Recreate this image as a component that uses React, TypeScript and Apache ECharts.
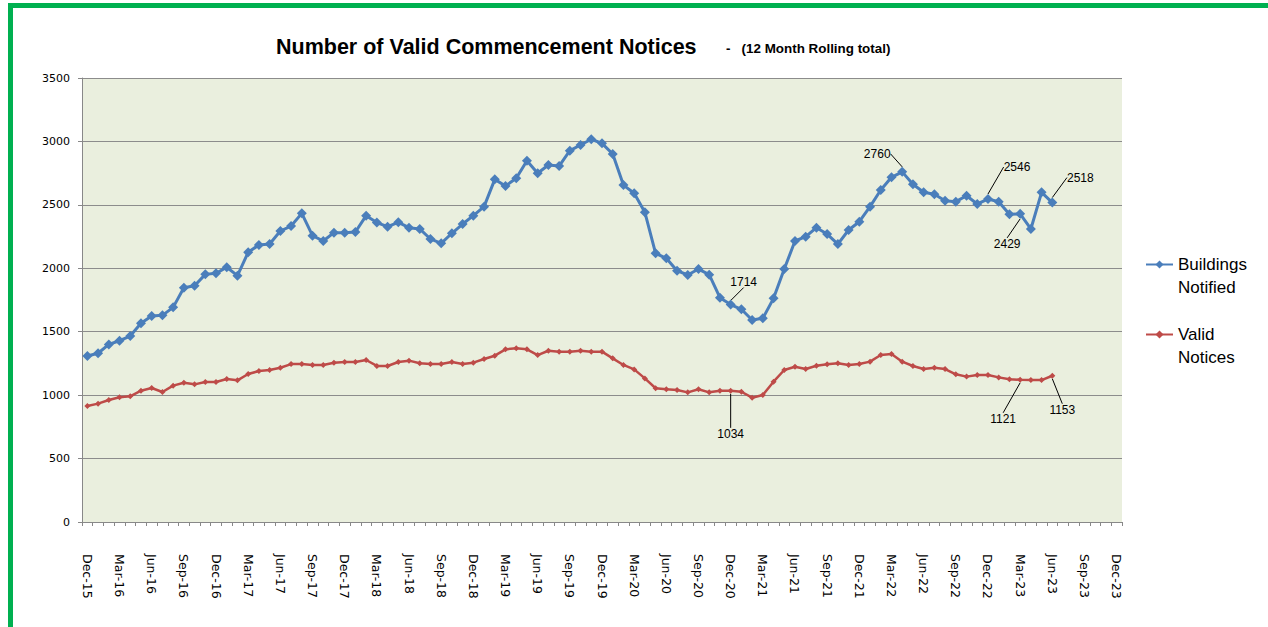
import React, { useEffect, useRef } from "react";
import * as echarts from "echarts";

const categories: string[] = [
  "Dec-15", "Jan-16", "Feb-16", "Mar-16", "Apr-16", "May-16", "Jun-16", "Jul-16", "Aug-16", "Sep-16", "Oct-16", "Nov-16",
  "Dec-16", "Jan-17", "Feb-17", "Mar-17", "Apr-17", "May-17", "Jun-17", "Jul-17", "Aug-17", "Sep-17", "Oct-17", "Nov-17",
  "Dec-17", "Jan-18", "Feb-18", "Mar-18", "Apr-18", "May-18", "Jun-18", "Jul-18", "Aug-18", "Sep-18", "Oct-18", "Nov-18",
  "Dec-18", "Jan-19", "Feb-19", "Mar-19", "Apr-19", "May-19", "Jun-19", "Jul-19", "Aug-19", "Sep-19", "Oct-19", "Nov-19",
  "Dec-19", "Jan-20", "Feb-20", "Mar-20", "Apr-20", "May-20", "Jun-20", "Jul-20", "Aug-20", "Sep-20", "Oct-20", "Nov-20",
  "Dec-20", "Jan-21", "Feb-21", "Mar-21", "Apr-21", "May-21", "Jun-21", "Jul-21", "Aug-21", "Sep-21", "Oct-21", "Nov-21",
  "Dec-21", "Jan-22", "Feb-22", "Mar-22", "Apr-22", "May-22", "Jun-22", "Jul-22", "Aug-22", "Sep-22", "Oct-22", "Nov-22",
  "Dec-22", "Jan-23", "Feb-23", "Mar-23", "Apr-23", "May-23", "Jun-23", "Jul-23", "Aug-23", "Sep-23", "Oct-23", "Nov-23",
  "Dec-23",
];

const buildingsNotified: number[] = [
  1308, 1330, 1400, 1429, 1466, 1566, 1624, 1629, 1692, 1847, 1863, 1952,
  1960, 2008, 1942, 2126, 2184, 2191, 2294, 2333, 2433, 2257, 2215, 2281,
  2281, 2286, 2415, 2360, 2328, 2362, 2320, 2310, 2231, 2197, 2276, 2349,
  2415, 2486, 2701, 2649, 2709, 2848, 2749, 2814, 2806, 2927, 2972, 3017,
  2985, 2901, 2656, 2591, 2441, 2118, 2079, 1981, 1947, 1994, 1950, 1768,
  1714, 1677, 1592, 1606, 1763, 1994, 2215, 2249, 2320, 2270, 2191, 2302,
  2367, 2486, 2617, 2717, 2760, 2662, 2599, 2583, 2533, 2525, 2572, 2507,
  2546, 2525, 2426, 2429, 2310, 2599, 2518,
];

const validNotices: number[] = [
  914, 933, 962, 983, 991, 1035, 1056, 1025, 1075, 1098, 1085, 1104,
  1104, 1127, 1117, 1167, 1190, 1198, 1216, 1245, 1245, 1238, 1238, 1256,
  1261, 1261, 1277, 1230, 1230, 1261, 1272, 1251, 1245, 1245, 1261, 1245,
  1256, 1285, 1311, 1361, 1369, 1361, 1316, 1350, 1343, 1343, 1350, 1343,
  1343, 1290, 1238, 1203, 1132, 1054, 1046, 1040, 1022, 1046, 1022, 1035,
  1034, 1027, 980, 1001, 1106, 1198, 1224, 1206, 1232, 1243, 1251, 1238,
  1245, 1264, 1316, 1324, 1264, 1230, 1206, 1216, 1206, 1164, 1146, 1159,
  1159, 1140, 1125, 1121, 1119, 1119, 1153,
];

const yTicks = { min: 0, max: 3500, interval: 500 };

// indices of points that carry a data label
const buildingsLabelled: number[] = [60, 76, 84, 87, 90];
const noticesLabelled: number[] = [60, 87, 90];

// label offsets (pixels) relative to the point, per series
const labelOffsets: Record<number, Record<number, [number, number]>> = {
  0: { 60: [13, -23], 76: [-25, -18], 84: [29, -32], 87: [-13, 30], 90: [28, -25] },
  1: { 60: [0, 43], 87: [-17, 39], 90: [10, 34] },
};

const BLUE = "#4A7EBB";
const RED = "#BE4B48";
const labelFont = "'Liberation Sans', Arial, sans-serif";

function buildData(values: number[], labelled: number[]) {
  return values.map((v, i) =>
    labelled.includes(i)
      ? {
          value: v,
          label: {
            show: true,
            position: "inside",
            color: "#000",
            fontSize: 12,
            fontFamily: labelFont,
          },
          labelLine: { show: true, lineStyle: { color: "#000", width: 1 } },
        }
      : v
  );
}

export default function App() {
  const ref = useRef<HTMLDivElement>(null);

  useEffect(() => {
    if (!ref.current) return;
    const chart = echarts.init(ref.current, undefined, { renderer: "svg" });
    const option: any = {
      animation: false,
      backgroundColor: "#fff",
      title: [
        {
          text: "Number of Valid Commencement Notices",
          left: 271,
          top: 31,
          textStyle: {
            fontFamily: labelFont,
            fontWeight: "bold",
            fontSize: 21.5,
            color: "#000",
          },
        },
        {
          text: "-   (12 Month Rolling total)",
          left: 721,
          top: 37,
          textStyle: {
            fontFamily: labelFont,
            fontWeight: "bold",
            fontSize: 13.4,
            color: "#000",
          },
        },
      ],
      graphic: [
        { type: "rect", left: 8, top: 3, shape: { width: 5, height: 624 }, style: { fill: "#00B050" }, silent: true },
        { type: "rect", left: 8, top: 3, shape: { width: 1260, height: 5 }, style: { fill: "#00B050" }, silent: true },
      ],
      legend: {
        orient: "vertical",
        left: 1140,
        top: 225,
        itemWidth: 27,
        itemHeight: 10,
        itemGap: 1,
        formatter: (name: string) => " \n" + name.replace(" ", "\n"),
        textStyle: {
          fontFamily: labelFont,
          fontSize: 17,
          lineHeight: 23,
          color: "#000",
        },
        data: ["Buildings Notified", "Valid Notices"],
      },
      grid: {
        left: 82,
        top: 78,
        right: 146,
        bottom: 105,
        show: true,
        backgroundColor: "#EAEFDE",
        borderWidth: 0,
      },
      xAxis: {
        type: "category",
        data: categories,
        boundaryGap: true,
        axisLine: { lineStyle: { color: "#888", width: 1 } },
        axisTick: { show: true, interval: 0, length: 4, lineStyle: { color: "#888" } },
        axisLabel: {
          interval: 2,
          rotate: -90,
          margin: 32,
          fontFamily: "'DejaVu Sans', Verdana, sans-serif",
          fontSize: 12.5,
          color: "#000",
        },
      },
      yAxis: {
        type: "value",
        min: yTicks.min,
        max: yTicks.max,
        interval: yTicks.interval,
        axisLine: { show: true, lineStyle: { color: "#888", width: 1 } },
        axisTick: { show: true, length: 4, lineStyle: { color: "#888" } },
        axisLabel: {
          margin: 12,
          fontFamily: "'DejaVu Sans', Verdana, sans-serif",
          fontSize: 11,
          color: "#000",
          formatter: (v: number) => String(v),
        },
        splitLine: { show: true, lineStyle: { color: "#8C8C8C", width: 1 } },
      },
      series: [
        {
          name: "Buildings Notified",
          type: "line",
          data: buildData(buildingsNotified, buildingsLabelled),
          symbol: "diamond",
          symbolSize: 10,
          showSymbol: true,
          showAllSymbol: true,
          color: BLUE,
          lineStyle: { color: BLUE, width: 3 },
          itemStyle: { color: BLUE },
          labelLayout: (p: any) => {
            const o = labelOffsets[0][p.dataIndex];
            return o ? { dx: o[0], dy: o[1] } : {};
          },
          z: 3,
        },
        {
          name: "Valid Notices",
          type: "line",
          data: buildData(validNotices, noticesLabelled),
          symbol: "diamond",
          symbolSize: 6,
          showSymbol: true,
          showAllSymbol: true,
          color: RED,
          lineStyle: { color: RED, width: 2.5 },
          itemStyle: { color: RED },
          labelLayout: (p: any) => {
            const o = labelOffsets[1][p.dataIndex];
            return o ? { dx: o[0], dy: o[1] } : {};
          },
          z: 2,
        },
      ],
    };
    chart.setOption(option);
    return () => chart.dispose();
  }, []);

  return (
    <div
      ref={ref}
      style={{ position: "absolute", left: 0, top: 0, width: 1268, height: 627 }}
    />
  );
}
